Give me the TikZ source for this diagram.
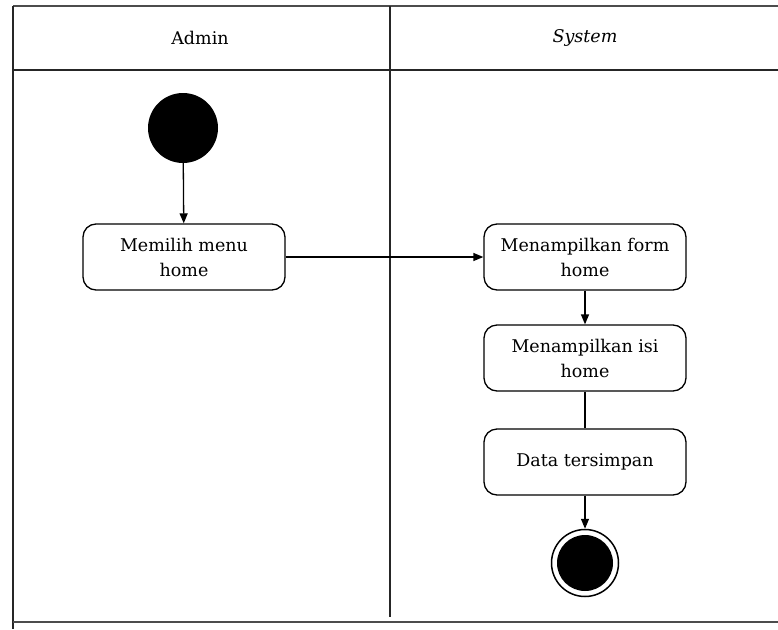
\documentclass[tikz,border=0pt]{standalone}
\usepackage{fontspec}
\setmainfont{DejaVu Serif}
\usetikzlibrary{arrows.meta}
\begin{document}
\begin{tikzpicture}[x=1pt,y=-1pt,
  frame/.style={line width=1.4pt,black!85},
  action/.style={draw,line width=1.3pt,rounded corners=13pt,
    minimum width=202pt,minimum height=66pt,align=center,
    font=\fontsize{17.5}{25}\selectfont,inner sep=2pt},
  startnode/.style={circle,fill=black,minimum size=70pt,inner sep=0pt},
  endnode/.style={circle,draw,line width=1.5pt,minimum size=67pt,inner sep=0pt,
    path picture={\fill[black] (path picture bounding box.center) circle[radius=28pt];}},
  flow/.style={line width=1.3pt,-{Triangle[length=10pt,width=8pt]}},
  plain/.style={line width=1.3pt},
  lanehead/.style={font=\fontsize{17.5}{21}\selectfont}]
\useasboundingbox (0,0) rectangle (778,629);
\fill[white] (0,0) rectangle (778,629);

% swimlane frame
\draw[frame,black!70,line width=2pt] (13,6) -- (778,6);
\draw[frame] (13,6) -- (13,629);
\draw[frame] (13,70) -- (778,70);
\draw[frame] (390,6) -- (390,617);
\draw[frame,black!70,line width=2pt] (13,622) -- (778,622);

% lane titles
\node[lanehead] (admin) at (200,38) {Admin};
\node[lanehead] (system) at (585,38) {\itshape System};

% activity nodes
\node[startnode] (start) at (183,128) {};
\node[action] (pilih) at (184,257) {Memilih menu\\home};
\node[action] (form) at (585,257) {Menampilkan form\\home};
\node[action] (isi) at (585,358) {Menampilkan isi\\home};
\node[action] (data) at (585,462) {Data tersimpan};
\node[endnode] (end) at (585,563) {};

% control flow
\draw[flow] (start) -- (pilih);
\draw[flow] (pilih) -- (form);
\draw[flow] (form) -- (isi);
\draw[plain] (isi) -- (data);
\draw[flow] (data) -- (end);
\end{tikzpicture}
\end{document}
